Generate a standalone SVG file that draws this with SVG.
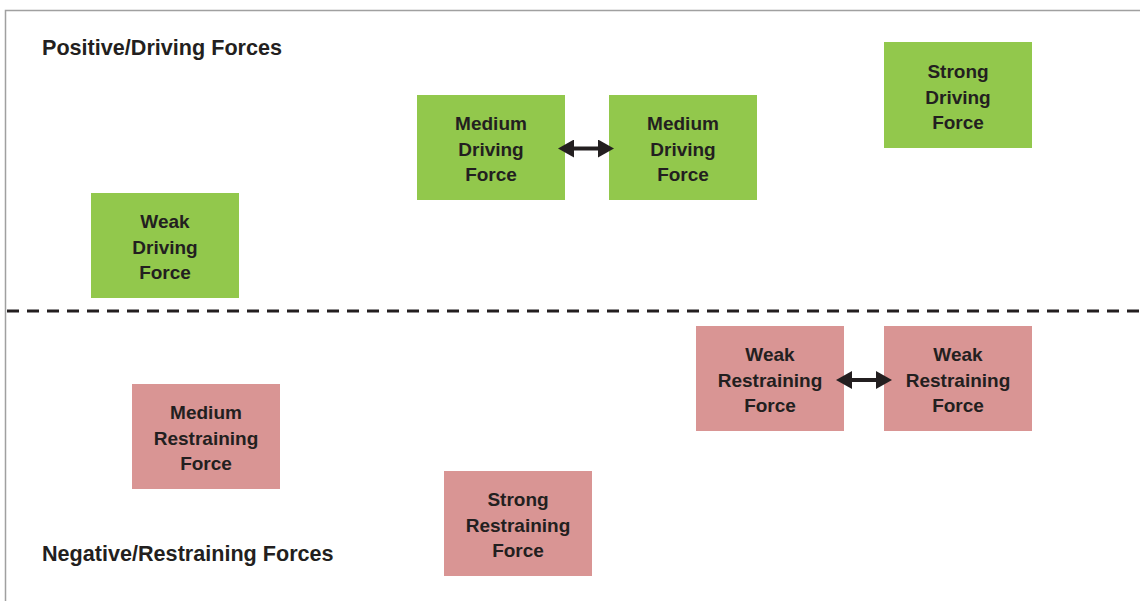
<svg xmlns="http://www.w3.org/2000/svg" width="1140" height="601" viewBox="0 0 1140 601">
<style>
.drv{fill:#92c84c}
.rst{fill:#d99594}
.lbl{font-family:"Liberation Sans",Arial,sans-serif;font-weight:bold;font-size:19px;fill:#231f20;text-anchor:middle}
.hd{font-family:"Liberation Sans",Arial,sans-serif;font-weight:bold;font-size:21.6px;fill:#231f20}
.frame{stroke:#a0a0a0;stroke-width:1.5;fill:none}
.conn{stroke:#231f20;stroke-width:4;fill:none;marker-start:url(#ah);marker-end:url(#ah)}
</style>
<defs>
<marker id="ah" viewBox="0 0 16 18" refX="4" refY="9" markerWidth="16" markerHeight="18" markerUnits="userSpaceOnUse" orient="auto-start-reverse">
<path d="M0,0 L16,9 L0,18 z" fill="#231f20"/>
</marker>
</defs>
<rect width="1140" height="601" fill="#ffffff"/>
<path class="frame" d="M5.5,601 V10.5 H1140"/>
<line x1="7" y1="311" x2="1140" y2="311" stroke="#231f20" stroke-width="3" stroke-dasharray="12 8"/>
<text class="hd" x="42" y="55">Positive/Driving Forces</text>
<text class="hd" x="42" y="561">Negative/Restraining Forces</text>
<g id="weak-driving"><rect class="drv" x="91" y="193" width="148" height="105"/><text class="lbl" x="165" y="228">Weak</text><text class="lbl" x="165" y="254">Driving</text><text class="lbl" x="165" y="279">Force</text></g>
<g id="medium-driving-1"><rect class="drv" x="417" y="95" width="148" height="105"/><text class="lbl" x="491" y="130">Medium</text><text class="lbl" x="491" y="156">Driving</text><text class="lbl" x="491" y="181">Force</text></g>
<g id="medium-driving-2"><rect class="drv" x="609" y="95" width="148" height="105"/><text class="lbl" x="683" y="130">Medium</text><text class="lbl" x="683" y="156">Driving</text><text class="lbl" x="683" y="181">Force</text></g>
<g id="strong-driving"><rect class="drv" x="884" y="42" width="148" height="106"/><text class="lbl" x="958" y="78">Strong</text><text class="lbl" x="958" y="104">Driving</text><text class="lbl" x="958" y="129">Force</text></g>
<g id="weak-restraining-1"><rect class="rst" x="696" y="326" width="148" height="105"/><text class="lbl" x="770" y="361">Weak</text><text class="lbl" x="770" y="387">Restraining</text><text class="lbl" x="770" y="412">Force</text></g>
<g id="weak-restraining-2"><rect class="rst" x="884" y="326" width="148" height="105"/><text class="lbl" x="958" y="361">Weak</text><text class="lbl" x="958" y="387">Restraining</text><text class="lbl" x="958" y="412">Force</text></g>
<g id="medium-restraining"><rect class="rst" x="132" y="384" width="148" height="105"/><text class="lbl" x="206" y="419">Medium</text><text class="lbl" x="206" y="445">Restraining</text><text class="lbl" x="206" y="470">Force</text></g>
<g id="strong-restraining"><rect class="rst" x="444" y="471" width="148" height="105"/><text class="lbl" x="518" y="506">Strong</text><text class="lbl" x="518" y="532">Restraining</text><text class="lbl" x="518" y="557">Force</text></g>
<g id="connectors">
<line class="conn" x1="570" y1="148.5" x2="602" y2="148.5"/>
<line class="conn" x1="848" y1="380" x2="880" y2="380"/>
</g>
</svg>
